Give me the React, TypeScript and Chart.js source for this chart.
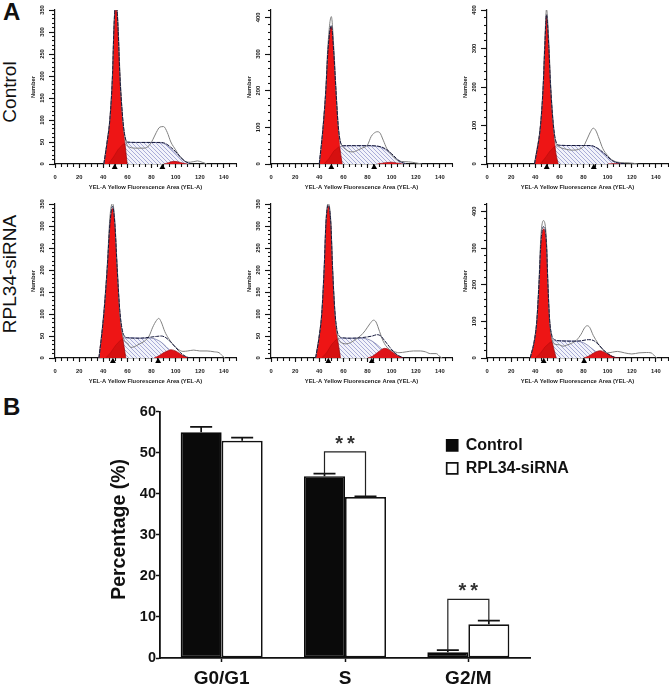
import React, { useEffect, useRef } from "react";
import { Chart, registerables } from "chart.js";

Chart.register(...registerables);

const FONT = "'Liberation Sans', Arial, sans-serif";

// ---------- Panel A: [fluorescence, count] ----------
const c1G1 = [[40.5,0],[43.2,50],[45.5,100],[47.7,200],[48.8,300],[50,350],[51,352],[52.3,300],[53.7,200],[56,100],[57.8,50],[59.8,0]];
const c1S = [[44,0],[48,14],[52,32],[56,44],[60,49],[70,49],[80,49],[88,48],[92,44],[96,35],[100,25],[104,14],[108,5],[112,0]];
const c1G2 = [[90,0],[94,3],[98,6],[102,5],[106,2],[110,0]];
const c1Raw = [[40.5,0],[43.2,52],[45.5,105],[47.7,210],[48.8,310],[50,360],[51,360],[52.3,315],[53.7,215],[56,105],[57.8,65],[59.5,45],[62,38],[68,36],[74,36],[78,42],[81,55],[84,72],[87,84],[90,85],[93,72],[96,50],[100,32],[104,15],[108,6],[112,4],[118,7],[122,4],[126,0]];
const c1Fit = [[40.5,0],[43.2,50],[45.5,102],[47.7,205],[48.8,305],[50,358],[51,358],[52.3,305],[53.7,205],[56,108],[57.8,65],[60,50],[70,49],[80,49],[88,49],[92,46],[96,38],[100,28],[104,16],[108,6],[112,1]];
const c1Marks = [49.5, 89];

const c2G1 = [[40,0],[41.5,35],[43.2,100],[45.5,200],[47.1,300],[49.5,372],[50.5,372],[52,300],[53.7,200],[55.6,100],[57.2,40],[59,0]];
const c2S = [[44,0],[48,15],[52,35],[56,46],[60,49],[70,50],[80,50],[88,48],[92,44],[96,36],[100,24],[104,12],[108,4],[112,0]];
const c2G2 = [[88,0],[92,2],[96,4],[100,5],[104,3],[108,1],[110,0]];
const c2Raw = [[40,0],[43.2,105],[45.5,210],[47.1,320],[50,402],[52,320],[53.7,215],[55.6,110],[57.2,65],[59,48],[60,45],[64,35],[68,33],[72,38],[76,44],[80,52],[83,75],[85,83],[88,88],[90,86],[93,65],[96,42],[100,25],[104,12],[108,7],[114,6],[120,3],[125,0]];
const c2Fit = [[40,0],[43.2,102],[45.5,205],[47.1,305],[50,378],[52,305],[53.7,208],[55.6,108],[57.2,65],[60,50],[70,50],[80,50],[88,49],[92,46],[96,39],[100,28],[104,15],[108,5],[112,1]];
const c2Marks = [50, 85.5];

const c3G1 = [[39.4,0],[41.5,40],[44.4,100],[46.6,200],[47.9,300],[49.3,385],[51.2,300],[52.6,200],[54.8,100],[57,30],[59,0]];
const c3S = [[44,0],[48,15],[52,33],[56,45],[60,48],[70,48],[80,48],[86,47],[90,43],[94,34],[98,24],[102,12],[106,5],[110,1],[112,0]];
const c3G2 = [[100,0],[104,1],[108,1],[111,0]];
const c3Raw = [[39.4,0],[44.4,105],[46.6,210],[47.9,320],[49.3,402],[51.2,320],[52.6,215],[54.8,110],[57,55],[60,44],[66,38],[70,36],[76,38],[80,46],[83,65],[86,85],[88,93],[90,88],[93,65],[96,40],[100,22],[104,10],[110,4],[118,3],[125,0]];
const c3Fit = [[39.4,0],[44.4,102],[46.6,205],[47.9,305],[49.3,388],[51.2,305],[52.6,208],[54.8,108],[57,60],[60,49],[70,48],[80,48],[86,48],[90,44],[94,36],[98,25],[102,13],[106,5],[110,2],[114,0]];
const c3Marks = [49.5, 88.5];

const s1G1 = [[36.4,0],[38.6,50],[40.5,100],[43.3,200],[45.5,300],[47.7,340],[49.6,300],[51.5,200],[53.7,100],[55.9,50],[58.7,0]];
const s1S = [[42,0],[46,12],[50,28],[54,40],[58,46],[64,46],[72,45],[80,45],[84,42],[88,36],[92,26],[96,15],[100,7],[103,2],[106,0]];
const s1G2 = [[82,0],[86,5],[90,12],[94,17],[96,19],[100,16],[104,9],[108,3],[112,0]];
const s1Raw = [[36.4,0],[38.6,52],[40.5,105],[43.3,210],[45.5,320],[47.7,352],[49.6,310],[51.5,210],[53.7,105],[55.9,55],[57.5,40],[60,34],[63,24],[66,26],[70,32],[74,38],[78,50],[81,70],[84,85],[86,90],[88,82],[91,60],[94,45],[98,30],[102,20],[106,15],[110,16],[115,18],[120,16],[126,16],[132,14],[136,12],[139,4],[141,0]];
const s1Fit = [[36.4,0],[38.6,50],[40.5,102],[43.3,205],[45.5,305],[47.7,345],[49.6,305],[51.5,205],[53.7,108],[55.9,62],[57.5,50],[60,46],[70,45],[78,47],[84,49],[88,50],[92,46],[96,36],[100,24],[104,12],[108,4],[112,0]];
const s1Marks = [48, 85.5];

const s2G1 = [[37,0],[40,50],[42.1,100],[44.1,200],[45.5,300],[47.4,345],[49.6,300],[51,200],[52.9,100],[54.8,50],[57.6,0]];
const s2S = [[42,0],[46,12],[50,30],[54,42],[58,45],[66,45],[74,45],[80,43],[84,38],[88,30],[92,20],[96,10],[100,4],[103,0]];
const s2G2 = [[80,0],[84,4],[88,12],[92,20],[94,22],[98,19],[102,11],[106,4],[110,0]];
const s2Raw = [[37,0],[40,52],[42.1,105],[44.1,210],[45.5,310],[47.4,352],[49.6,310],[51,210],[52.9,108],[54.8,55],[56.5,40],[59,34],[62,32],[66,35],[70,42],[74,50],[78,62],[82,78],[85,86],[87,82],[90,60],[93,38],[97,22],[101,16],[106,12],[112,14],[118,16],[124,16],[128,14],[132,10],[137,10],[140,3],[142,0]];
const s2Fit = [[37,0],[40,50],[42.1,102],[44.1,205],[45.5,305],[47.4,348],[49.6,305],[51,205],[52.9,108],[54.8,62],[56.5,50],[59,46],[66,45],[74,46],[80,48],[84,50],[88,53],[91,50],[94,40],[98,26],[102,13],[106,5],[110,0]];
const s2Marks = [47.5, 83.5];

const s3G1 = [[35.8,0],[39.4,50],[41.3,100],[43.2,200],[44.6,300],[46.8,352],[49.3,300],[50.4,200],[51.8,100],[53.7,50],[57.3,0]];
const s3S = [[40,0],[44,12],[48,30],[52,42],[56,47],[64,47],[72,46],[78,44],[82,38],[86,28],[90,18],[94,10],[98,4],[101,0]];
const s3G2 = [[80,0],[84,5],[88,13],[92,19],[94,20],[98,15],[102,8],[106,2],[110,0]];
const s3Raw = [[35.8,0],[39.4,52],[41.3,105],[43.2,220],[44.6,330],[46.8,375],[49.3,320],[50.4,215],[51.8,110],[53.7,55],[56,38],[60,36],[63,32],[66,35],[70,40],[74,48],[78,65],[81,83],[83,88],[85,84],[88,62],[92,40],[96,22],[100,14],[104,16],[108,18],[114,14],[120,11],[126,14],[132,15],[136,14],[140,2],[141,0]];
const s3Fit = [[35.8,0],[39.4,50],[41.3,102],[43.2,210],[44.6,312],[46.8,358],[49.3,310],[50.4,208],[51.8,108],[53.7,62],[56,50],[60,47],[70,46],[78,47],[84,50],[88,48],[92,38],[96,24],[100,12],[104,4],[108,0]];
const s3Marks = [47, 80.5];

const xAxisTitle = "YEL-A Yellow Fluorescence Area (YEL-A)";
const yAxisTitle = "Number";

// ---------- Panel B ----------
const phases = ["G0/G1", "S", "G2/M"];
const controlPct = [55.0, 44.3, 1.4];
const sirnaPct = [52.9, 39.2, 8.2];
const controlErr = [1.3, 0.6, 0.5];
const sirnaErr = [0.8, 0.2, 0.9];
const bracketTop = [0, 50.2, 14.3];
const bracketLabel = ["", "**", "**"];

const toXY = (pairs: number[][]) => pairs.map(([x, y]) => ({ x, y }));

// The part of the S-phase curve that lies inside the G1 peak (shown darker).
function valueAt(pts: number[][], x: number) {
  for (let i = 1; i < pts.length; i++) {
    if (x <= pts[i][0] && x >= pts[i - 1][0]) {
      const t = (x - pts[i - 1][0]) / (pts[i][0] - pts[i - 1][0]);
      return pts[i - 1][1] + t * (pts[i][1] - pts[i - 1][1]);
    }
  }
  return 0;
}
function overlap(g1: number[][], s: number[][]) {
  const xs = [...g1, ...s].map((q) => q[0]).filter((x) => x >= s[0][0] && x <= g1[g1.length - 1][0]);
  return Array.from(new Set(xs)).sort((a, b) => a - b).map((x) => [x, Math.min(valueAt(g1, x), valueAt(s, x))]);
}

function hatch(): CanvasPattern | string {
  const c = document.createElement("canvas");
  c.width = 4;
  c.height = 4;
  const g = c.getContext("2d");
  if (!g) return "#ccd";
  g.fillStyle = "#f2f3fa";
  g.fillRect(0, 0, 4, 4);
  g.strokeStyle = "#a9acd8";
  g.lineWidth = 1;
  g.beginPath();
  g.moveTo(-1, -1);
  g.lineTo(5, 5);
  g.moveTo(-1, 3);
  g.lineTo(1, 5);
  g.moveTo(3, -1);
  g.lineTo(5, 1);
  g.stroke();
  return g.createPattern(c, "repeat") || "#ccd";
}

type HistProps = {
  left: number; top: number; yMax: number; major: number; minor: number;
  g1: number[][]; s: number[][]; g2: number[][]; raw: number[][]; fit: number[][]; marks: number[];
};

const AXIS_W = 30;
const AXIS_H = 30;
const PLOT_W = 181.4;
const PLOT_H = 154.8;
const PAD = 6;

function Histogram(p: HistProps) {
  const ref = useRef<HTMLCanvasElement | null>(null);
  useEffect(() => {
    if (!ref.current) return;
    const fixW = (w: number) => (s: any) => {
      s.width = w;
      s.paddingTop = s.paddingBottom = s.paddingLeft = s.paddingRight = 0;
    };
    const fixH = (h: number) => (s: any) => {
      s.height = h;
      s.paddingTop = s.paddingBottom = s.paddingLeft = s.paddingRight = 0;
    };
    const line = (pts: number[][], o: any) => ({
      data: toXY(pts), pointRadius: 0, cubicInterpolationMode: "monotone", ...o,
    });
    const tickFont = { family: FONT, size: 5.8, weight: "bold" as const };
    const chart = new Chart(ref.current, {
      type: "line",
      data: {
        datasets: [
          {
            data: p.marks.map((x) => ({ x, y: -p.yMax * 0.021 })),
            showLine: false, pointStyle: "triangle", pointRadius: 3.4,
            pointBackgroundColor: "#000", pointBorderColor: "#000", pointBorderWidth: 0,
            clip: false, order: 0,
          },
          line(p.fit, { borderColor: "#15183c", borderWidth: 1, borderDash: [4, 1], fill: false, order: 1 }),
          line(p.raw, { borderColor: "#808080", borderWidth: 1, fill: false, order: 2 }),
          line(p.g2, { borderColor: "#8c0a10", borderWidth: 0.6, backgroundColor: "#df1218", fill: "origin", order: 3 }),
          line(overlap(p.g1, p.s), { borderColor: "rgba(120,0,0,0.4)", borderWidth: 0.6, backgroundColor: "rgba(130,0,0,0.22)", fill: "origin", order: 4 }),
          line(p.g1, { borderColor: "#a80a10", borderWidth: 0.6, backgroundColor: "#ee1515", fill: "origin", order: 5 }),
          line(p.s, { borderColor: "#6a6ea0", borderWidth: 0.7, backgroundColor: hatch(), fill: "origin", order: 6 }),
        ] as any,
      },
      options: {
        animation: false, responsive: false, devicePixelRatio: 1,
        layout: { padding: { top: PAD, right: PAD, left: 0, bottom: 0 } },
        plugins: { legend: { display: false }, tooltip: { enabled: false } },
        scales: {
          x: {
            type: "linear", min: 0, max: 150, position: "bottom", weight: 1,
            afterFit: fixH(AXIS_H),
            grid: { drawOnChartArea: false, tickLength: 4, tickColor: "#111", tickWidth: 1.1 },
            border: { color: "#111", width: 1.2 },
            ticks: {
              stepSize: 20, includeBounds: false, autoSkip: false, maxRotation: 0, minRotation: 0,
              padding: 6, color: "#222", font: tickFont,
            },
            title: { display: true, text: xAxisTitle, color: "#222", padding: { top: 0, bottom: 3 }, font: tickFont },
          },
          xMinor: {
            type: "linear", axis: "x", min: 0, max: 150, position: "bottom", weight: 0,
            afterFit: fixH(0),
            grid: { drawOnChartArea: false, tickLength: 3, tickColor: "#111", tickWidth: 1.1 },
            border: { display: false },
            ticks: { stepSize: 5, display: false, autoSkip: false },
          },
          y: {
            type: "linear", min: 0, max: p.yMax, position: "left", weight: 1,
            afterFit: fixW(AXIS_W),
            grid: { drawOnChartArea: false, tickLength: 6, tickColor: "#111", tickWidth: 1.1 },
            border: { color: "#111", width: 1.2 },
            ticks: {
              stepSize: p.major, includeBounds: false, autoSkip: false, minRotation: 90, maxRotation: 90,
              crossAlign: "center", padding: 1.5, color: "#222", font: tickFont,
            },
            title: { display: true, text: yAxisTitle, color: "#222", padding: { top: 4.5, bottom: 0 }, font: tickFont },
          },
          yMinor: {
            type: "linear", axis: "y", min: 0, max: p.yMax, position: "left", weight: 0,
            afterFit: fixW(0),
            grid: { drawOnChartArea: false, tickLength: 3, tickColor: "#111", tickWidth: 1.1 },
            border: { display: false },
            ticks: { stepSize: p.minor, display: false, autoSkip: false },
          },
        },
      } as any,
    });
    return () => chart.destroy();
  }, []);
  return (
    <canvas
      ref={ref}
      width={AXIS_W + PLOT_W + PAD}
      height={PAD + PLOT_H + AXIS_H}
      style={{ position: "absolute", left: p.left - AXIS_W, top: p.top - PAD, filter: "blur(0.35px)" }}
    />
  );
}

const annotate = {
  id: "annotate",
  afterLayout(chart: any) {
    const lg = chart.legend;
    lg.left = 379.7;
    lg.right = 600;
    lg.top = 30.4;
    lg.bottom = 90;
  },
  afterDatasetsDraw(chart: any) {
    const { ctx, scales } = chart;
    const y = scales.y;
    const m0 = chart.getDatasetMeta(0).data;
    const m1 = chart.getDatasetMeta(1).data;
    ctx.save();
    ctx.strokeStyle = "#111";
    ctx.lineWidth = 1.7;
    const err = (xp: number, v: number, e: number) => {
      const top = y.getPixelForValue(v + e);
      ctx.beginPath();
      ctx.moveTo(xp, y.getPixelForValue(v));
      ctx.lineTo(xp, top);
      ctx.moveTo(xp - 11, top);
      ctx.lineTo(xp + 11, top);
      ctx.stroke();
    };
    phases.forEach((_, i) => {
      err(m0[i].x, controlPct[i], controlErr[i]);
      err(m1[i].x, sirnaPct[i], sirnaErr[i]);
    });
    ctx.lineWidth = 1.2;
    ctx.strokeStyle = "#222";
    phases.forEach((_, i) => {
      if (!bracketLabel[i]) return;
      const t = y.getPixelForValue(bracketTop[i]);
      ctx.beginPath();
      ctx.moveTo(m0[i].x, y.getPixelForValue(controlPct[i] + controlErr[i]));
      ctx.lineTo(m0[i].x, t);
      ctx.lineTo(m1[i].x, t);
      ctx.lineTo(m1[i].x, y.getPixelForValue(sirnaPct[i] + sirnaErr[i]));
      ctx.stroke();
      ctx.font = `bold 20px ${FONT}`;
      ctx.fillStyle = "#333";
      ctx.textAlign = "center";
      (ctx as any).letterSpacing = "4px";
      ctx.fillText(bracketLabel[i], (m0[i].x + m1[i].x) / 2 + 2, t - 2);
    });
    ctx.restore();
  },
};

function BarPanel() {
  const ref = useRef<HTMLCanvasElement | null>(null);
  useEffect(() => {
    if (!ref.current) return;
    const chart = new Chart(ref.current, {
      type: "bar",
      data: {
        labels: phases,
        datasets: [
          { label: "Control", data: controlPct, backgroundColor: "#0a0a0a", borderColor: "#0a0a0a", borderWidth: 1.7, borderSkipped: false },
          { label: "RPL34-siRNA", data: sirnaPct, backgroundColor: "#fff", borderColor: "#111", borderWidth: 1.7, borderSkipped: false },
        ],
      },
      options: {
        animation: false, responsive: false, devicePixelRatio: 1,
        layout: { padding: { top: 11.7, right: 139, left: 0, bottom: 0 } },
        plugins: {
          tooltip: { enabled: false },
          legend: {
            position: "chartArea", align: "start",
            labels: { boxWidth: 11, boxHeight: 11, padding: 7, color: "#111", font: { family: FONT, size: 16, weight: "bold" } },
          },
        },
        scales: {
          x: {
            afterFit: (s: any) => { s.height = 27; s.paddingLeft = s.paddingRight = 0; },
            grid: { offset: false, drawOnChartArea: false, tickLength: 4, tickColor: "#111", tickWidth: 1.5 },
            border: { color: "#111", width: 1.8 },
            ticks: { padding: 5, color: "#111", maxRotation: 0, font: { family: FONT, size: 19, weight: "bold" } },
          },
          y: {
            min: 0, max: 60,
            afterFit: (s: any) => { s.width = 100; s.paddingTop = s.paddingBottom = 0; },
            grid: { drawOnChartArea: false, tickLength: 4, tickColor: "#111", tickWidth: 1.5 },
            border: { color: "#111", width: 1.8 },
            ticks: { stepSize: 10, padding: 0, color: "#111", font: { family: FONT, size: 14.5, weight: "bold" } },
            title: {
              display: true, text: "  Percentage (%)", color: "#111", padding: { top: 47.6, bottom: 0 },
              font: { family: FONT, size: 19.5, weight: "bold" },
            },
          },
        },
        datasets: { bar: { categoryPercentage: 0.665, barPercentage: 1 } },
      } as any,
      plugins: [annotate],
    });
    return () => chart.destroy();
  }, []);
  return (
    <canvas
      ref={ref}
      width={609}
      height={285}
      style={{ position: "absolute", left: 60, top: 400, filter: "blur(0.3px)" }}
    />
  );
}

const rotated = (text: string, cy: number) => (
  <div
    style={{
      position: "absolute", left: 9, top: cy, transform: "translate(-50%,-50%) rotate(-90deg)",
      font: `19px ${FONT}`, whiteSpace: "nowrap", color: "#111", lineHeight: 1,
    }}
  >
    {text}
  </div>
);

const letter = (text: string, x: number, y: number, size: number) => (
  <div style={{ position: "absolute", left: x, top: y, font: `bold ${size}px ${FONT}`, color: "#111", lineHeight: 1 }}>{text}</div>
);

export default function App() {
  return (
    <div style={{ position: "absolute", left: 0, top: 0, width: 669, height: 685, overflow: "hidden", background: "#fff" }}>
      {letter("A", 3, 0, 24)}
      {letter("B", 3, 395, 24)}
      {rotated("Control", 91.5)}
      {rotated("RPL34-siRNA", 273.5)}
      <Histogram left={55} top={10} yMax={350} major={50} minor={10} g1={c1G1} s={c1S} g2={c1G2} raw={c1Raw} fit={c1Fit} marks={c1Marks} />
      <Histogram left={271} top={10} yMax={420} major={100} minor={20} g1={c2G1} s={c2S} g2={c2G2} raw={c2Raw} fit={c2Fit} marks={c2Marks} />
      <Histogram left={487} top={10} yMax={400} major={100} minor={20} g1={c3G1} s={c3S} g2={c3G2} raw={c3Raw} fit={c3Fit} marks={c3Marks} />
      <Histogram left={55} top={203.5} yMax={350} major={50} minor={10} g1={s1G1} s={s1S} g2={s1G2} raw={s1Raw} fit={s1Fit} marks={s1Marks} />
      <Histogram left={271} top={203.5} yMax={350} major={50} minor={10} g1={s2G1} s={s2S} g2={s2G2} raw={s2Raw} fit={s2Fit} marks={s2Marks} />
      <Histogram left={487} top={203.5} yMax={420} major={100} minor={20} g1={s3G1} s={s3S} g2={s3G2} raw={s3Raw} fit={s3Fit} marks={s3Marks} />
      <BarPanel />
    </div>
  );
}
